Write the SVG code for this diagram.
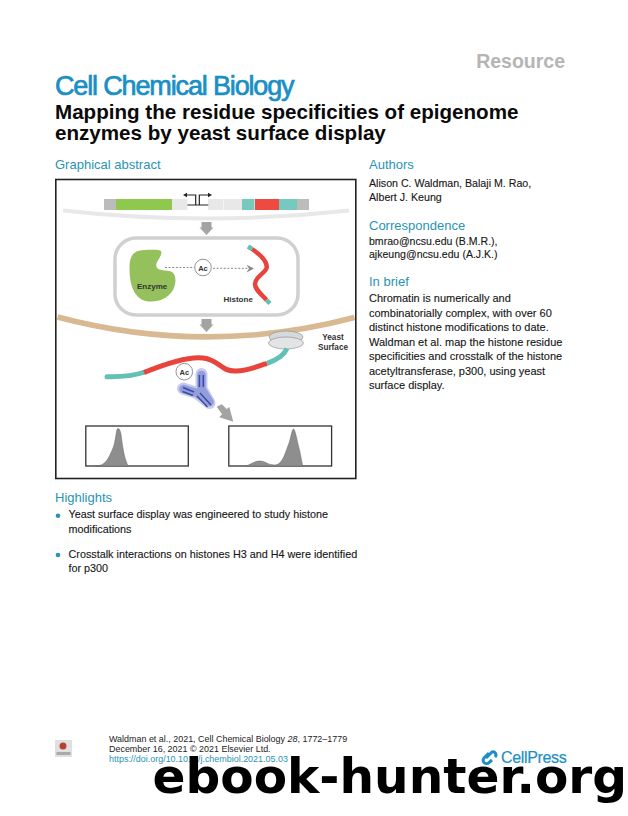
<svg xmlns="http://www.w3.org/2000/svg" width="628" height="816" viewBox="0 0 628 816">
<style>
text{font-family:"Liberation Sans",Arial,sans-serif}
.h{font-size:13px;fill:#2a93b5}
.b{font-size:11px;fill:#161616;stroke:#161616;stroke-width:.12}
.l{font-size:8.200px;font-weight:bold;fill:#333}
.f{font-size:8.950px;fill:#222}
.ar{fill:#a3a3a3}
.dash{stroke:#888;stroke-width:1;stroke-dasharray:2 1.6;fill:none}
.hist{fill:none;stroke-width:4.500;stroke-linecap:butt}
.plot{fill:#fff;stroke:#333;stroke-width:1.300}
.peak{fill:#8e8e8e;stroke:#666;stroke-width:.5}
.ac{fill:#fff;stroke:#777;stroke-width:.8}
</style>
<rect width="628" height="816" fill="#fff"/>
<text x="565" y="67.500" text-anchor="end" font-size="19.500" font-weight="bold" fill="#b5b5b5">Resource</text>
<text x="55" y="94.500" font-size="27" fill="#1a8fc4" stroke="#1a8fc4" stroke-width=".7" letter-spacing="-1.150">Cell Chemical Biology</text>
<text x="55" y="119" font-size="20.600" font-weight="bold" fill="#0a0a0a">Mapping the residue specificities of epigenome</text>
<text x="55" y="140" font-size="20.600" font-weight="bold" fill="#0a0a0a">enzymes by yeast surface display</text>
<text class="h" x="55" y="169">Graphical abstract</text>
<text class="h" x="369" y="169">Authors</text>
<text class="b" x="369" y="186.700" style="font-size:10.650px">Alison C. Waldman, Balaji M. Rao,</text>
<text class="b" x="369" y="201" style="font-size:10.650px">Albert J. Keung</text>
<text class="h" x="369" y="230">Correspondence</text>
<text class="b" x="369" y="244.500" style="font-size:10.550px">bmrao@ncsu.edu (B.M.R.),</text>
<text class="b" x="369" y="257.700" style="font-size:10.550px">ajkeung@ncsu.edu (A.J.K.)</text>
<text class="h" x="369" y="286">In brief</text>
<text class="b" x="369" y="301.700">Chromatin is numerically and</text>
<text class="b" x="369" y="316.500">combinatorially complex, with over 60</text>
<text class="b" x="369" y="331">distinct histone modifications to date.</text>
<text class="b" x="369" y="345.500">Waldman et al. map the histone residue</text>
<text class="b" x="369" y="360">specificities and crosstalk of the histone</text>
<text class="b" x="369" y="374.700">acetyltransferase, p300, using yeast</text>
<text class="b" x="369" y="389">surface display.</text>
<text class="h" x="55" y="502">Highlights</text>
<circle cx="58" cy="515.700" r="2.300" fill="#2a93b5"/>
<text class="b" x="68.500" y="518.300" style="font-size:10.800px">Yeast surface display was engineered to study histone</text>
<text class="b" x="68.500" y="532.700" style="font-size:10.800px">modifications</text>
<circle cx="58" cy="555" r="2.300" fill="#2a93b5"/>
<text class="b" x="68.500" y="557.700" style="font-size:10.800px">Crosstalk interactions on histones H3 and H4 were identified</text>
<text class="b" x="68.500" y="572.300" style="font-size:10.800px">for p300</text>

<g id="frame"><rect x="55.800" y="179.500" width="300" height="299" fill="#fff" stroke="#222" stroke-width="1.600"/></g>
<g id="gene">
<path d="M63 210.500Q206.500 226.500 349 210.500" fill="none" stroke="#e8e8e8" stroke-width="4"/>
<rect x="104" y="199" width="12" height="11" fill="#bcbcbc"/>
<rect x="116" y="199" width="56" height="11" fill="#8fc74f"/>
<rect x="172" y="199" width="15.500" height="11" fill="#e8e8e8"/>
<rect x="208" y="199" width="15" height="11" fill="#e8e8e8"/>
<rect x="223.500" y="199" width="18.500" height="11" fill="#e8e8e8"/>
<rect x="242" y="199" width="12.500" height="11" fill="#76c9bf"/>
<rect x="255" y="199" width="24" height="11" fill="#ef4a3f"/>
<rect x="279" y="199" width="18" height="11" fill="#76c9bf"/>
<rect x="297" y="199" width="12" height="11" fill="#bcbcbc"/>
<path d="M187.500 205H208.300M195.700 205V195H186M199.300 205V195H209" fill="none" stroke="#222" stroke-width="1.200"/>
<path d="M183 195l4-2.200v4.400zM212 195l-4-2.200v4.400z" fill="#222"/>
</g>
<g id="arrows">
<path class="ar" d="M201.500 222H211.500V227.500H213.500L206.500 235L199.500 227.500H201.500Z"/>
<path class="ar" d="M201.500 319H211.500V324.500H213.500L206.500 332L199.500 324.500H201.500Z"/>
<path class="ar" d="M216.700 406.700L221.700 404.300L226.700 409L229.300 407L233.300 421.700L219.300 417.300L222 414.300Z"/>
</g>
<g id="cell"><rect x="115" y="238" width="183" height="77" rx="21" fill="#fff" stroke="#d0d0d0" stroke-width="3.500"/></g>
<g id="enzyme">
<path d="M129.500 268C129.500 255 134 250.500 144 250C153 249.500 162 249 161.500 252.500C161 258 155 262 156.500 267C158 271 166 270 171 271.500C176 273.500 177 282 173 290C168 298 160 302 149 301.500C137 300.500 129.500 290 129.500 268Z" fill="#95c15c"/>
<text class="l" x="137" y="288.500" style="font-size:8px">Enzyme</text>
</g>
<g id="histone">
<path class="dash" d="M165 267.500H194.500M213 268.300H249"/>
<path d="M246.500 264.800L254 268.500L246.500 272.500L249 268.500Z" fill="#888"/>
<circle class="ac" cx="203" cy="267.500" r="8.300"/>
<text x="203" y="270.500" text-anchor="middle" font-size="7.500" font-weight="bold" fill="#333">Ac</text>
<path class="hist" stroke="#e8443c" d="M252 249C258 253 266.500 259 266.800 267C266.500 273 255 276 255 284C255 289 260 293 266.500 300"/>
<path class="hist" stroke="#62c0b6" d="M248 246.500L252 249M266.500 300L270 303.500"/>
<text class="l" x="223.500" y="302" style="font-size:8px">Histone</text>
</g>
<g id="wall"><path d="M57.500 317Q206 356.500 354.500 317.500" fill="none" stroke="#d9b991" stroke-width="5.500"/></g>
<g id="surface">
<ellipse cx="286" cy="337" rx="17" ry="6" fill="#d6d9dc" stroke="#888" stroke-width=".6"/>
<ellipse cx="286" cy="343" rx="17.500" ry="6" fill="#e2e4e6" stroke="#888" stroke-width=".6"/>
<text class="l" x="333" y="339.500" text-anchor="middle">Yeast</text>
<text class="l" x="333" y="349.500" text-anchor="middle">Surface</text>
<path d="M107 376.700C120 377 133 376 145 372" fill="none" stroke="#62c0b6" stroke-width="5" stroke-linecap="round"/>
<path d="M144 372.500C165 364 188 356 203 358C220 360 220 371.500 236 371C248 370.500 258 366.500 267 363.300" fill="none" stroke="#e8443c" stroke-width="5"/>
<path d="M267 363.300C277 360 284 355 287 348.500" fill="none" stroke="#62c0b6" stroke-width="5"/>
<circle class="ac" cx="184.300" cy="371.700" r="8.300"/>
<text x="184.300" y="374.700" text-anchor="middle" font-size="7.500" font-weight="bold" fill="#333">Ac</text>
</g>
<g id="antibody">
<path d="M201.500 374V389L209.500 403M183 388.500L197 393L209.500 403" fill="none" stroke="#c7cbee" stroke-width="12" stroke-linejoin="round" stroke-linecap="round"/>
<path d="M201.500 375V389L209.500 402M183.500 389L197 393L209.500 402" fill="none" stroke="#939dda" stroke-width="8.500" stroke-linejoin="round" stroke-linecap="round"/>
<path d="M199.400 375V387M203.300 375V387M183 387.500L194 392M182.500 391.500L193 395.500M200 393L211 405M197 396L207.500 407" fill="none" stroke="#3a4aa8" stroke-width="1.500"/>
</g>
<g id="plot1">
<rect class="plot" x="85.800" y="426" width="102.500" height="40"/>
<path class="peak" d="M95 466C105 466 108 460 113 448C116 441 116 428 118 428.500C120 428.500 121 432 122 442C124 456 126 462 128.300 466Z"/>
</g>
<g id="plot2">
<rect class="plot" x="228.800" y="426" width="102.800" height="40"/>
<path class="peak" d="M246 466C252 464 254 461 260 461C266 461 267 465 275 465C283 465 286 450 289 443C291 437 292 429 293.500 429C295 429 297 440 299 448C301 456 301.500 461 302.800 466Z"/>
</g>
<g id="footer">
<rect x="55" y="740" width="17" height="17" fill="#e0e0e0"/>
<circle cx="63" cy="746" r="3.500" fill="#b5432f"/>
<rect x="56.500" y="752" width="14" height="3" fill="#aaa"/>
<text class="f" x="109" y="741.700">Waldman et al., 2021, Cell Chemical Biology <tspan font-style="italic">28</tspan>, 1772–1779</text>
<text class="f" x="109" y="751.800">December 16, 2021 © 2021 Elsevier Ltd.</text>
<text class="f" x="109" y="762.300" style="fill:#2a93b5">https://doi.org/10.1016/j.chembiol.2021.05.03</text>
<g fill="none" stroke="#1a8fc4" stroke-width="3"><path d="M489 753L484 758A3 3 0 0 0 489 762.500L492 760"/><path d="M486 758L492 752A3 3 0 0 1 495 757"/></g>
<text x="501" y="762.800" font-size="16" fill="#1a8fc4" stroke="#1a8fc4" stroke-width=".2" letter-spacing="-.35">CellPress</text>
</g>
<text id="mark" x="152.500" y="793" style="font-family:'DejaVu Sans',sans-serif" font-size="48.600" font-weight="bold" fill="#000">ebook-hunter.org</text>
</svg>
